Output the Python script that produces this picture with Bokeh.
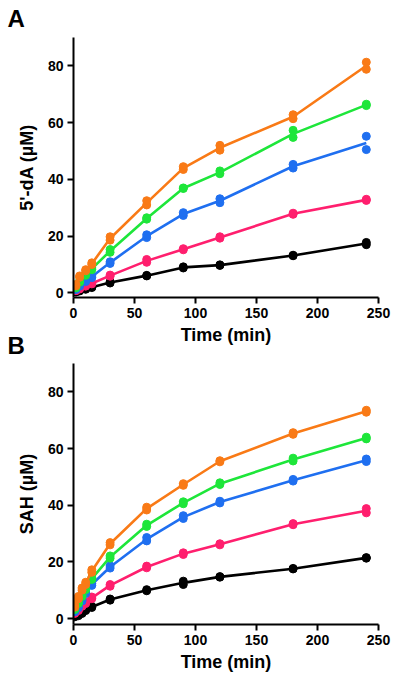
import numpy as np
from bokeh.plotting import figure
from bokeh.layouts import column
from bokeh.models import FixedTicker, Range1d, Title
from bokeh.embed import file_html
from bokeh.resources import INLINE

# ---------------- data ----------------
TIME_A = [2, 5, 10, 15, 30, 60, 90, 120, 180, 240]
A_ORANGE_1 = [2.5, 5.5, 7.8, 10.0, 18.6, 31.0, 43.5, 50.3, 61.4, 78.8]
A_ORANGE_2 = [3.0, 6.0, 8.2, 10.6, 19.8, 32.5, 44.5, 52.0, 62.8, 81.3]
A_GREEN_1 = [1.8, 3.8, 6.2, 8.2, 14.3, 26.0, 36.8, 42.0, 54.8, 66.0]
A_GREEN_2 = [2.2, 4.2, 6.8, 8.8, 15.3, 26.5, 37.0, 43.0, 57.3, 66.5]
A_BLUE_1 = [1.2, 2.4, 4.0, 5.4, 10.4, 19.5, 27.3, 31.8, 44.0, 50.5]
A_BLUE_2 = [1.4, 2.8, 4.4, 6.0, 11.0, 20.5, 28.3, 33.2, 45.3, 55.2]
A_PINK_1 = [0.8, 1.4, 2.4, 3.2, 5.9, 10.8, 15.2, 19.3, 27.7, 32.6]
A_PINK_2 = [0.9, 1.6, 2.7, 3.5, 6.3, 11.8, 15.6, 19.8, 28.1, 33.0]
A_BLACK_1 = [0.3, 0.7, 1.3, 1.9, 3.5, 6.0, 8.8, 9.7, 13.1, 17.0]
A_BLACK_2 = [0.5, 0.9, 1.5, 2.1, 3.9, 6.2, 9.2, 9.9, 13.3, 17.8]

TIME_B = [1, 4, 7, 10, 15, 30, 60, 90, 120, 180, 240]
B_ORANGE_1 = [4.0, 7.0, 10.0, 12.0, 16.3, 26.0, 38.3, 47.0, 55.3, 65.0, 72.8]
B_ORANGE_2 = [4.8, 7.8, 10.8, 12.8, 17.2, 26.8, 39.3, 47.6, 55.7, 65.6, 73.5]
B_GREEN_1 = [3.2, 5.3, 7.8, 10.2, 13.8, 21.3, 32.5, 40.5, 47.3, 55.6, 63.4]
B_GREEN_2 = [3.6, 5.8, 8.3, 10.8, 14.4, 22.1, 33.3, 41.2, 47.9, 56.6, 64.0]
B_BLUE_1 = [2.4, 3.8, 6.2, 8.8, 11.7, 17.8, 27.4, 35.3, 40.8, 48.5, 55.4]
B_BLUE_2 = [2.7, 4.3, 6.8, 9.3, 12.3, 18.6, 28.6, 36.3, 41.4, 49.1, 56.3]
B_PINK_1 = [1.8, 2.8, 4.3, 5.3, 7.0, 11.4, 17.9, 22.6, 26.0, 33.1, 37.3]
B_PINK_2 = [2.1, 3.2, 4.7, 5.8, 7.6, 12.0, 18.5, 23.2, 26.4, 33.5, 38.8]
B_BLACK_1 = [0.6, 1.0, 1.8, 2.8, 3.9, 6.5, 9.8, 12.0, 14.6, 17.5, 21.3]
B_BLACK_2 = [0.9, 1.4, 2.2, 3.2, 4.3, 6.9, 10.2, 13.2, 14.8, 17.7, 21.5]

X_TICKS = [0, 50, 100, 150, 200, 250]
Y_TICKS = [0, 20, 40, 60, 80]

COLORS = {"black": "#000000", "pink": "#FF1F6E", "blue": "#1F6FF0",
          "green": "#1EE63A", "orange": "#F97A16"}

SERIES_A = [("black", A_BLACK_1, A_BLACK_2), ("pink", A_PINK_1, A_PINK_2),
            ("blue", A_BLUE_1, A_BLUE_2), ("green", A_GREEN_1, A_GREEN_2),
            ("orange", A_ORANGE_1, A_ORANGE_2)]
SERIES_B = [("black", B_BLACK_1, B_BLACK_2), ("pink", B_PINK_1, B_PINK_2),
            ("blue", B_BLUE_1, B_BLUE_2), ("green", B_GREEN_1, B_GREEN_2),
            ("orange", B_ORANGE_1, B_ORANGE_2)]

FONT = "Liberation Sans"


def make_panel(times, series, ylabel, y_start, height, b_top, b_bottom, b_left, b_right):
    p = figure(width=392, height=height, output_backend="svg", toolbar_location=None,
               x_range=Range1d(0, 250), y_range=Range1d(y_start, 90),
               min_border_top=b_top, min_border_bottom=b_bottom,
               min_border_left=b_left, min_border_right=b_right)
    p.outline_line_color = None
    p.grid.visible = False
    p.background_fill_color = "white"
    p.border_fill_color = "white"
    for name, r1, r2 in series:
        c = COLORS[name]
        mean = (np.array(r1) + np.array(r2)) / 2.0
        p.line(times, mean, line_color=c, line_width=2.6)
        p.scatter(times, r1, size=8, fill_color=c, line_color=c)
        p.scatter(times, r2, size=8, fill_color=c, line_color=c)
    p.xaxis.ticker = FixedTicker(ticks=X_TICKS)
    p.yaxis.ticker = FixedTicker(ticks=Y_TICKS)
    for ax in (p.xaxis[0], p.yaxis[0]):
        ax.axis_line_width = 2
        ax.major_tick_line_width = 2
        ax.major_tick_out = 6
        ax.major_tick_in = 0
        ax.minor_tick_line_color = None
        ax.major_label_text_font = FONT
        ax.major_label_text_font_style = "bold"
        ax.major_label_text_font_size = "14px"
        ax.major_label_text_color = "black"
        ax.axis_label_text_font = FONT
        ax.axis_label_text_font_style = "bold"
        ax.axis_label_text_font_size = "18px"
        ax.axis_label_text_color = "black"
        ax.major_label_standoff = 4
    p.xaxis.axis_label = "Time (min)"
    p.yaxis.axis_label = ylabel
    p.xaxis.axis_label_standoff = 4
    p.yaxis.axis_label_standoff = 8
    return p


pa = make_panel(TIME_A, SERIES_A, "5'-dA (µM)", -1.6, 362, 37, 65, 73, 12)
pb = make_panel(TIME_B, SERIES_B, "SAH (µM)", -2.1, 314, 1, 52, 71, 14)

pa.add_layout(Title(text="A", align="left", offset=-66, standoff=8,
                    vertical_align="top", text_font=FONT, text_font_style="bold",
                    text_font_size="24px", text_color="black"), "above")
pa.add_layout(Title(text="B", align="left", offset=-66, standoff=-31,
                    vertical_align="top", text_font=FONT, text_font_style="bold",
                    text_font_size="24px", text_color="black"), "below")

layout = column(pa, pb, spacing=0)
open("out.html", "w").write(file_html(layout, INLINE))
